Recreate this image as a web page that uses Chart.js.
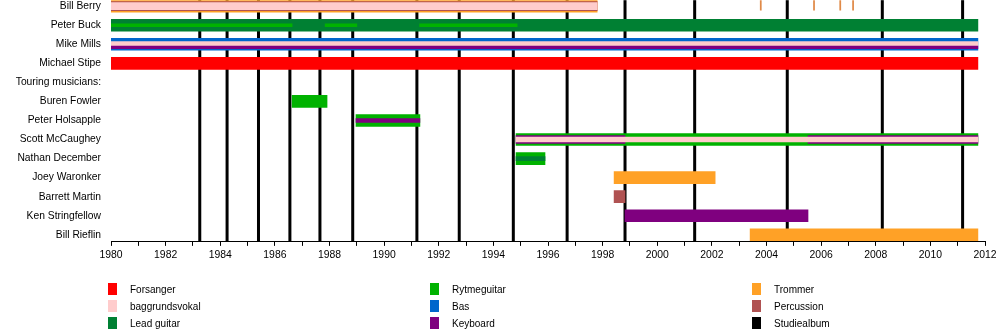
<!DOCTYPE html>
<html>
<head>
<meta charset="utf-8">
<script src="https://cdn.jsdelivr.net/npm/chart.js@4/dist/chart.umd.min.js"></script>
<style>
  html, body { margin: 0; padding: 0; background: #fff; }
  #wrap { position: relative; width: 1000px; height: 330px; overflow: hidden; font-family: "Liberation Sans", Arial, sans-serif; }
  #c { position: absolute; left: 0; top: 0; }
  .lg-box { position: absolute; width: 9px; height: 12px; }
  .lg-txt { position: absolute; font-size: 10px; line-height: 12px; color: #000; white-space: nowrap; }
</style>
</head>
<body>
<div id="wrap">
  <canvas id="c" width="1000" height="360"></canvas>
</div>
<script>
// ---------- data ----------
const rows = ['Bill Berry', 'Peter Buck', 'Mike Mills', 'Michael Stipe', 'Touring musicians:',
  'Buren Fowler', 'Peter Holsapple', 'Scott McCaughey', 'Nathan December', 'Joey Waronker',
  'Barrett Martin', 'Ken Stringfellow', 'Bill Rieflin'];

const xMin = 1980;
const xMax = 2012;

const albumYears = [1983.25, 1984.25, 1985.4, 1986.55, 1987.65, 1988.85, 1991.2, 1992.75,
  1994.73, 1996.7, 1998.82, 2001.37, 2004.76, 2008.24, 2011.18];

const leadVocals = [['Michael Stipe', 1980, 2011.74]];
const backingVocals = [['Bill Berry', 1980, 1997.8], ['Mike Mills', 1980, 2011.74], ['Scott McCaughey', 1994.83, 2011.74]];
const leadGuitar = [['Peter Buck', 1980, 2011.74], ['Nathan December', 1994.83, 1995.89]];
const rhythmGuitar = [['Peter Buck', 1980, 1986.63], ['Peter Buck', 1987.84, 1989.0], ['Peter Buck', 1991.3, 1994.87],
  ['Buren Fowler', 1986.63, 1987.91], ['Peter Holsapple', 1988.97, 1991.31],
  ['Scott McCaughey', 1994.83, 2011.74], ['Nathan December', 1994.83, 1995.89]];
const bass = [['Mike Mills', 1980, 2011.74]];
const keyboard = [['Mike Mills', 1980, 2011.74], ['Peter Holsapple', 1988.97, 1991.31],
  ['Scott McCaughey', 1994.83, 1998.82], ['Scott McCaughey', 2005.52, 2011.74], ['Ken Stringfellow', 1998.82, 2005.52]];
const drums = [['Bill Berry', 1980, 1997.8], ['Joey Waronker', 1998.42, 2002.12], ['Bill Rieflin', 2003.4, 2011.74]];
const percussion = [['Bill Berry', 1980, 1997.8], ['Barrett Martin', 1998.42, 1998.82]];
const guestAppearances = [['Bill Berry', 2003.79], ['Bill Berry', 2005.74], ['Bill Berry', 2006.7], ['Bill Berry', 2007.17]];

const legendLabels = ['Forsanger', 'baggrundsvokal', 'Lead guitar', 'Rytmeguitar', 'Bas', 'Keyboard', 'Trommer', 'Percussion', 'Studiealbum'];

// ---------- styles ----------
const colors = {
  vocals: '#FF0000', backing: '#FFCCCC', lead: '#008033', rhythm: '#00B200',
  bass: '#0066CC', keyboard: '#7F007F', drums: '#FFA126', percussion: '#B05252', album: '#000000',
  guest: '#E08A48'
};
const legendColors = [colors.vocals, colors.backing, colors.lead, colors.rhythm, colors.bass, colors.keyboard, colors.drums, colors.percussion, colors.album];

const layerStyle = {
  'Bill Berry': { drums: { t: 12 }, percussion: { t: 9 }, backing: { t: 7 }, guest: { t: 10, s: -1 } },
  'Peter Buck': { lead: { t: 12 }, rhythm: { t: 3 } },
  'Mike Mills': { bass: { t: 12 }, backing: { t: 4.4, s: -0.5 }, keyboard: { t: 2.6, s: 3 } },
  'Peter Holsapple': { rhythm: { t: 12 }, keyboard: { t: 4 } },
  'Scott McCaughey': { rhythm: { t: 12 }, keyboard: { t: 8 }, backing: { t: 5 } },
  'Nathan December': { rhythm: { t: 12 }, lead: { t: 4 } }
};

// y scale geometry (page px: row 0 centre at 6, axis at 241.7)
const yMin = -0.315, yMax = 12.373;
const plotH = 241.7;
const canvasH = 360;
const pxPerRow = plotH / (yMax - yMin);
let topOffset = 8;

const intTicks = s => { s.ticks = rows.map((_, i) => ({ value: i })); };

const scales = {
  x: {
    type: 'linear', min: xMin, max: xMax, offset: false,
    afterFit: s => { s.height = canvasH - topOffset - plotH; },
    ticks: {
      stepSize: 1, autoSkip: false, maxRotation: 0, padding: 3, color: '#000',
      font: { family: '"Liberation Sans", Arial, sans-serif', size: 10.4 },
      callback: v => (v % 2 === 0 ? String(v) : '')
    },
    grid: { drawOnChartArea: false, drawTicks: true, tickLength: 4, color: '#000', lineWidth: 1, offset: false },
    border: { display: true, color: '#000', width: 1 }
  },
  y: {
    type: 'linear', reverse: true, min: yMin, max: yMax, offset: false,
    afterBuildTicks: intTicks,
    afterFit: s => { s.width = 111; },
    ticks: {
      padding: 10, color: '#000',
      font: { family: '"Liberation Sans", Arial, sans-serif', size: 10.3 },
      callback: v => rows[v] ?? ''
    },
    grid: { display: false, drawTicks: false, offset: false },
    border: { display: false }
  }
};

function scaleFor(shift) {
  if (!shift) return 'y';
  const id = 'ys' + String(shift).replace('.', '_').replace('-', 'm');
  if (!scales[id]) {
    const d = shift / pxPerRow;
    scales[id] = { type: 'linear', display: false, reverse: true, offset: false,
      min: yMin - d, max: yMax - d, afterBuildTicks: intTicks, grid: { offset: false } };
  }
  return id;
}

const datasets = [];
function addRole(list, role, color) {
  list.forEach(([member, a, b]) => {
    const st = (layerStyle[member] && layerStyle[member][role]) || { t: 12 };
    datasets.push({
      data: [{ x: [a, b], y: rows.indexOf(member) }],
      backgroundColor: color,
      borderWidth: 0,
      grouped: false,
      categoryPercentage: 1, barPercentage: 1,
      maxBarThickness: st.t,
      order: st.t,
      yAxisID: scaleFor(st.s || 0)
    });
  });
}
addRole(leadVocals, 'vocals', colors.vocals);
addRole(drums, 'drums', colors.drums);
addRole(leadGuitar, 'lead', colors.lead);
addRole(rhythmGuitar, 'rhythm', colors.rhythm);
addRole(bass, 'bass', colors.bass);
addRole(keyboard, 'keyboard', colors.keyboard);
addRole(percussion, 'percussion', colors.percussion);
addRole(backingVocals, 'backing', colors.backing);
addRole(guestAppearances.map(([m, y]) => [m, y - 0.02, y + 0.02]), 'guest', colors.guest);

const albumLines = {
  id: 'albumLines',
  beforeDatasetsDraw(chart) {
    const { ctx, chartArea, scales: { x } } = chart;
    ctx.save();
    ctx.fillStyle = colors.album;
    albumYears.forEach(yr => {
      const px = x.getPixelForValue(yr);
      ctx.fillRect(px - 1.5, chartArea.top, 3, chartArea.bottom - chartArea.top);
    });
    ctx.restore();
  }
};

const canvas = document.getElementById('c');
const chart = new Chart(canvas, {
  type: 'bar',
  data: { datasets },
  options: {
    indexAxis: 'y',
    responsive: false,
    animation: false,
    devicePixelRatio: 1,
    layout: { padding: { top: 0, right: 15, bottom: 0, left: 0 } },
    plugins: { legend: { display: false }, tooltip: { enabled: false } },
    scales
  },
  plugins: [albumLines]
});
for (let k = 0; k < 3; k++) {
  const t = chart.chartArea.top;
  if (Math.abs(t - topOffset) < 0.01) break;
  topOffset = t;
  chart.update();
}
canvas.style.top = (-topOffset) + 'px';

// ---------- HTML legend ----------
const wrap = document.getElementById('wrap');
const colBox = [108, 430, 752];
const rowMid = [288.5, 306, 323];
legendLabels.forEach((lab, i) => {
  const c = Math.floor(i / 3), r = i % 3;
  const box = document.createElement('div');
  box.className = 'lg-box';
  box.style.left = colBox[c] + 'px';
  box.style.top = (rowMid[r] - 6) + 'px';
  box.style.background = legendColors[i];
  wrap.appendChild(box);
  const t = document.createElement('div');
  t.className = 'lg-txt';
  t.style.left = (colBox[c] + 22) + 'px';
  t.style.top = (rowMid[r] - 5) + 'px';
  t.textContent = lab;
  wrap.appendChild(t);
});
</script>
</body>
</html>
